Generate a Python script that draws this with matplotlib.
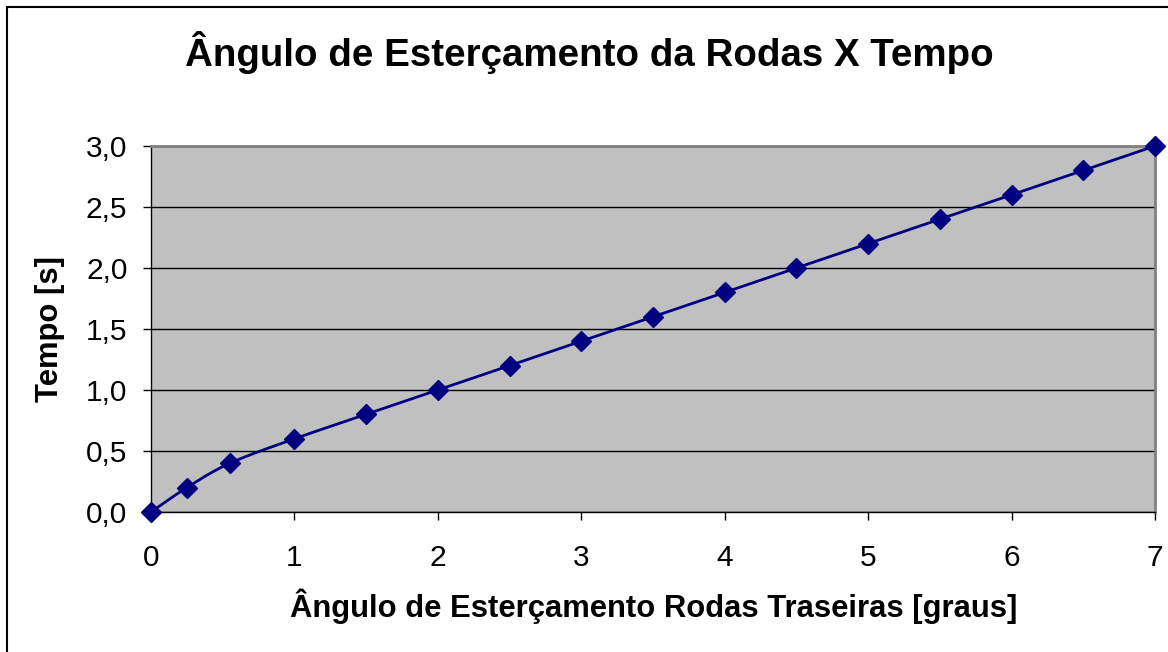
import numpy as np
import matplotlib
matplotlib.use('Agg')
import matplotlib.pyplot as plt
from matplotlib.patches import Rectangle
from matplotlib.ticker import FuncFormatter

plt.rcParams['font.family'] = ['Liberation Sans', 'DejaVu Sans']

angulo = [0, 0.25, 0.55, 1, 1.5, 2, 2.5, 3, 3.5, 4, 4.5, 5, 5.5, 6, 6.5, 7]
tempo = [0, 0.2, 0.4, 0.6, 0.8, 1.0, 1.2, 1.4, 1.6, 1.8, 2.0, 2.2, 2.4, 2.6, 2.8, 3.0]

titulo = 'Ângulo de Esterçamento da Rodas X Tempo'
rotulo_x = 'Ângulo de Esterçamento Rodas Traseiras [graus]'
rotulo_y = 'Tempo [s]'


def suavizar(x, y, n=20):
    # Catmull-Rom, parecido com a linha suavizada do Excel
    x = np.asarray(x, float)
    y = np.asarray(y, float)
    px = np.concatenate([[2 * x[0] - x[1]], x, [2 * x[-1] - x[-2]]])
    py = np.concatenate([[2 * y[0] - y[1]], y, [2 * y[-1] - y[-2]]])
    t = np.linspace(0, 1, n)
    xs, ys = [], []
    for i in range(1, len(px) - 2):
        for p, out in ((px, xs), (py, ys)):
            p0, p1, p2, p3 = p[i - 1], p[i], p[i + 1], p[i + 2]
            out.extend(0.5 * (2 * p1 + (-p0 + p2) * t
                              + (2 * p0 - 5 * p1 + 4 * p2 - p3) * t ** 2
                              + (-p0 + 3 * p1 - 3 * p2 + p3) * t ** 3))
    return xs, ys


fig = plt.figure(figsize=(11.68, 6.52), dpi=100)
fig.patches.append(Rectangle((7 / 1168, -0.1), 1.2, 645 / 652 + 0.1,
                             transform=fig.transFigure, fill=False,
                             edgecolor='black', linewidth=1.5))

ax = fig.add_axes([151 / 1168, 140 / 652, 1004 / 1168, 366 / 652])
ax.set_facecolor('#C0C0C0')

xs, ys = suavizar(angulo, tempo)
ax.plot(xs, ys, color='#000080', linewidth=2, zorder=3, clip_on=False)
ax.plot(angulo, tempo, 'D', color='#000080', markersize=10.5, zorder=4, clip_on=False)

ax.set_xlim(0, 7)
ax.set_ylim(0, 3)
ax.set_xticks(range(8))
ax.set_yticks(np.arange(0, 3.01, 0.5))
ax.yaxis.set_major_formatter(FuncFormatter(lambda v, p: '{:.1f}'.format(v).replace('.', ',')))
ax.grid(True, axis='y', color='black', linewidth=1)
ax.set_axisbelow(True)

for s in ['top', 'right']:
    ax.spines[s].set_color('#808080')
    ax.spines[s].set_linewidth(2)
for s in ['left', 'bottom']:
    ax.spines[s].set_color('black')
    ax.spines[s].set_linewidth(1)

ax.tick_params(axis='both', direction='out', length=6, width=1, labelsize=21.5)
ax.tick_params(axis='x', pad=17)
ax.tick_params(axis='y', pad=11)

fig.text(654 / 1168, 1 - 606 / 652, rotulo_x, ha='center', va='center',
         fontsize=22.3, fontweight='bold')
fig.text(50 / 1168, 1 - 329 / 652, rotulo_y, ha='center', va='center',
         rotation=90, fontsize=22.3, fontweight='bold')
fig.text(589 / 1168, 1 - 53 / 652, titulo, ha='center', va='center',
         fontsize=27.7, fontweight='bold')

fig.savefig('out.png', dpi=100)
